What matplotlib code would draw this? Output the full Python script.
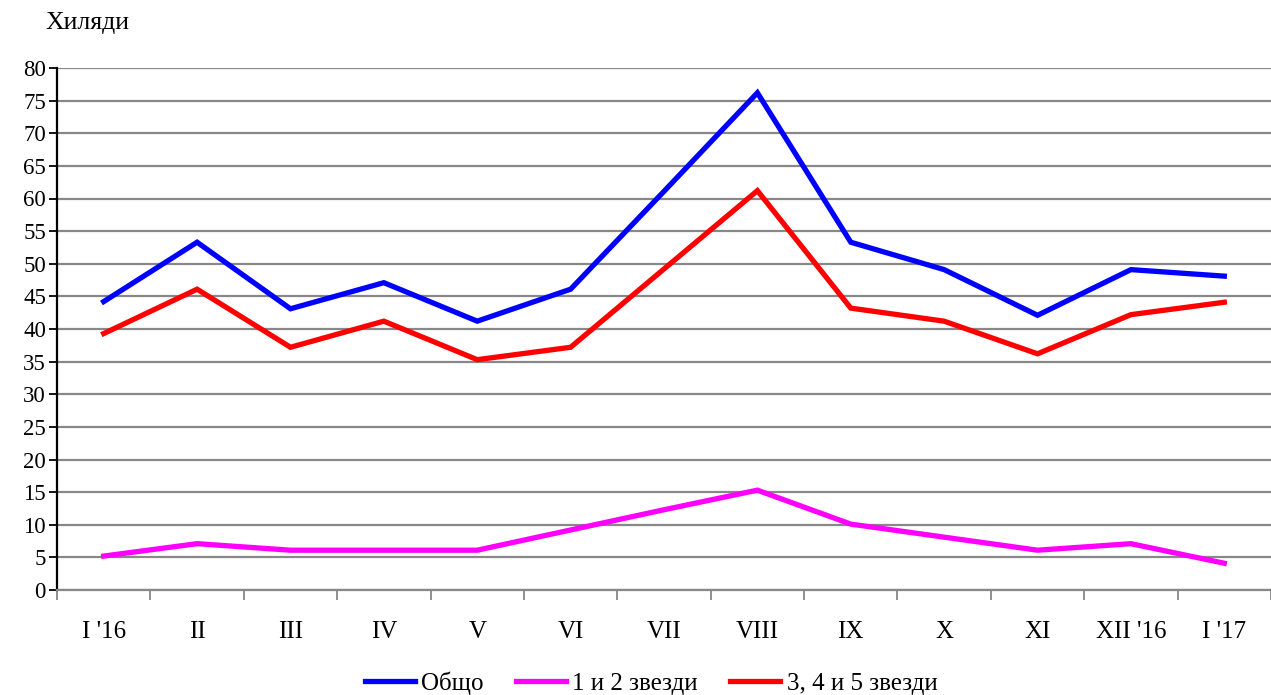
import matplotlib
matplotlib.use("Agg")
import matplotlib.pyplot as plt
import numpy as np

plt.rcParams['font.family'] = ['Liberation Serif', 'DejaVu Serif']

months = ["I '16", "II", "III", "IV", "V", "VI", "VII", "VIII", "IX", "X", "XI", "XII '16", "I '17"]
total = [44.2, 53.3, 43.1, 47.1, 41.2, 46.1, 61.1, 76.2, 53.3, 49.1, 42.1, 49.1, 48.1]
stars12 = [5.2, 7.1, 6.1, 6.1, 6.1, 9.2, 12.3, 15.3, 10.1, 8.1, 6.1, 7.1, 4.1]
stars345 = [39.3, 46.1, 37.2, 41.2, 35.3, 37.2, 49.2, 61.2, 43.2, 41.2, 36.2, 42.2, 44.1]

fig = plt.figure(figsize=(12.71, 6.95), dpi=100)
ax = fig.add_axes([57/1271, 1 - 590/695, 1 - 57/1271, (590 - 68)/695])

x = np.arange(len(months))
ax.plot(x, total, color='#0000ff', lw=3.8, label='Общо', solid_joinstyle='miter')
ax.plot(x, stars12, color='#ff00ff', lw=3.8, label='1 и 2 звезди', solid_joinstyle='miter')
ax.plot(x, stars345, color='#ff0000', lw=3.8, label='3, 4 и 5 звезди', solid_joinstyle='miter')

ax.set_ylim(0, 80)
ax.set_xlim(-0.5, 12.37)
ax.set_yticks(np.arange(0, 81, 5))
ax.yaxis.grid(True, color='#888888', lw=1.6)
ax.set_axisbelow(True)

# category boundaries as ticks, labels centered
ax.set_xticks(np.arange(-0.5, len(months) + 0.5, 1))
ax.set_xticklabels([])
ax.set_xticks(x, minor=True)
ax.set_xticklabels(months, minor=True)
ax.tick_params(axis='x', which='minor', length=0, pad=22, labelsize=18)
ax.tick_params(axis='x', which='major', length=7, width=1.3, color='#888888')
ax.tick_params(axis='y', length=6, width=1.3, color='black', labelsize=16.5, pad=2)

for s in ['top', 'right']:
    ax.spines[s].set_visible(False)
ax.spines['left'].set_color('black')
ax.spines['left'].set_linewidth(1.6)
ax.spines['bottom'].set_color('#888888')
ax.spines['bottom'].set_linewidth(1.6)

fig.text(45/1271, 1 - 23/695, 'Хиляди', fontsize=18.5, va='center', ha='left')

fig.legend(loc='center', bbox_to_anchor=(651/1271, 1 - 683/695), ncol=3, frameon=False,
           fontsize=18, handlelength=2.0, handletextpad=0.25, columnspacing=1.3)

fig.savefig("out.png", dpi=100)
